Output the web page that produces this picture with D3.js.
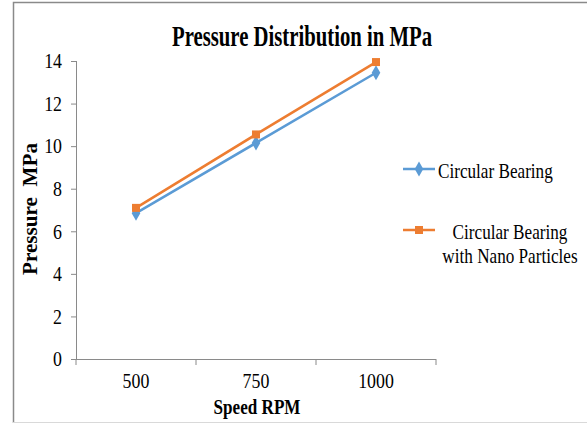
<!DOCTYPE html>
<html>
<head>
    <meta charset="utf-8">
    <style>
        body { margin: 0; background: #fff; }
        text { font-family: "Liberation Serif", "Times New Roman", serif; fill: #000; }
        .title { font-weight: bold; font-size: 29px; }
        .axis-title { font-weight: bold; font-size: 20px; }
        .tick text { font-size: 21px; }
        .legend text { font-size: 22px; }
    </style>
</head>
<body>
    <svg width="587" height="423"></svg>

    <script src="https://cdnjs.cloudflare.com/ajax/libs/d3/7.8.5/d3.min.js"></script>

    <script>
        var speeds = ["500", "750", "1000"];
        var circular = [6.85, 10.15, 13.45];
        var nano = [7.1, 10.55, 13.95];
        var yTicks = [0, 2, 4, 6, 8, 10, 12, 14];

        var series = [
            {name: ["Circular Bearing"], values: circular, color: "#5b9bd5", marker: d3.symbolDiamond},
            {name: ["Circular Bearing", "with Nano Particles"], values: nano, color: "#ed7d31", marker: d3.symbolSquare}
        ];

        var svg = d3.select("svg");

        // squeeze text horizontally (the original picture is stretched tall)
        function condense(sel, k) {
            sel.each(function() {
                var w = this.getComputedTextLength();
                d3.select(this).attr("textLength", w * k).attr("lengthAdjust", "spacingAndGlyphs");
            });
        }

        // frame
        svg.append("path")
            .attr("d", "M13.5,423 V2.5 H587")
            .attr("fill", "none")
            .attr("stroke", "#8a8a8a")
            .attr("stroke-width", 1.5);
        svg.append("line")
            .attr("x1", 13).attr("x2", 587).attr("y1", 422.5).attr("y2", 422.5)
            .attr("stroke", "#d9d9d9");

        var plotL = 76, plotR = 436, plotT = 61, plotB = 359;

        var x = d3.scaleBand().domain(speeds).range([plotL, plotR]);
        var y = d3.scaleLinear().domain([0, 14]).range([plotB, plotT]);

        var yAxis = svg.append("g")
            .attr("transform", "translate(" + plotL + ",0)")
            .call(d3.axisLeft(y).tickValues(yTicks).tickSize(5).tickPadding(9));

        var xAxis = svg.append("g")
            .attr("transform", "translate(0," + plotB + ")")
            .call(d3.axisBottom(x).tickSize(0).tickPadding(14));

        // category boundary ticks
        xAxis.selectAll("line.bound")
            .data([plotL].concat(speeds.map(function(s) { return x(s) + x.bandwidth(); })))
            .enter().append("line")
            .attr("class", "bound")
            .attr("x1", function(d) { return d; })
            .attr("x2", function(d) { return d; })
            .attr("y1", 0).attr("y2", 6)
            .attr("stroke", "#8a8a8a");

        svg.selectAll(".domain, .tick line").attr("stroke", "#8a8a8a");
        xAxis.select(".domain").attr("d", "M" + plotL + ",0.5H" + plotR);
        yAxis.select(".domain").attr("d", "M0.5," + plotB + "V" + plotT);
        svg.selectAll(".tick text").attr("fill", "#000");
        condense(svg.selectAll(".tick text"), 0.85);

        var line = d3.line()
            .x(function(d, i) { return x(speeds[i]) + x.bandwidth() / 2; })
            .y(function(d) { return y(d); });

        series.forEach(function(s) {
            svg.append("path")
                .datum(s.values)
                .attr("d", line)
                .attr("fill", "none")
                .attr("stroke", s.color)
                .attr("stroke-width", 2.5);
            svg.selectAll(null)
                .data(s.values)
                .enter().append("path")
                .attr("d", d3.symbol().type(s.marker).size(s.marker === d3.symbolSquare ? 64 : 64))
                .attr("transform", function(d, i) {
                    return "translate(" + (x(speeds[i]) + x.bandwidth() / 2) + "," + y(d) + ")";
                })
                .attr("fill", s.color);
        });

        // title
        svg.append("text")
            .attr("class", "title")
            .attr("x", 302).attr("y", 46)
            .attr("text-anchor", "middle")
            .attr("textLength", 260)
            .attr("lengthAdjust", "spacingAndGlyphs")
            .text("Pressure Distribution in MPa");

        // axis titles
        svg.append("text")
            .attr("class", "axis-title")
            .attr("x", 257).attr("y", 414)
            .attr("text-anchor", "middle")
            .attr("textLength", 87)
            .attr("lengthAdjust", "spacingAndGlyphs")
            .text("Speed RPM");

        svg.append("text")
            .attr("class", "axis-title")
            .attr("transform", "translate(37,209) rotate(-90)")
            .attr("text-anchor", "middle")
            .attr("xml:space", "preserve")
            .attr("textLength", 132)
            .attr("lengthAdjust", "spacingAndGlyphs")
            .text("Pressure  MPa");

        // legend
        var legendY = [169, 230];
        var squeeze = 0.78;
        var lg = svg.append("g").attr("class", "legend");
        series.forEach(function(s, i) {
            var g = lg.append("g").attr("transform", "translate(403," + legendY[i] + ")");
            g.append("line")
                .attr("x1", 0).attr("x2", 32)
                .attr("stroke", s.color)
                .attr("stroke-width", 2.5);
            g.append("path")
                .attr("d", d3.symbol().type(s.marker).size(64))
                .attr("transform", "translate(16,0)")
                .attr("fill", s.color);
            var multi = s.name.length > 1;
            var t = g.append("text")
                .attr("transform", "scale(" + squeeze + ",1)")
                .attr("y", 9)
                .attr("text-anchor", multi ? "middle" : "start");
            s.name.forEach(function(n, j) {
                t.append("tspan")
                    .attr("x", (multi ? 107 : 35) / squeeze)
                    .attr("dy", j === 0 ? 0 : 24)
                    .text(n);
            });
        });
    </script>
</body>
</html>
